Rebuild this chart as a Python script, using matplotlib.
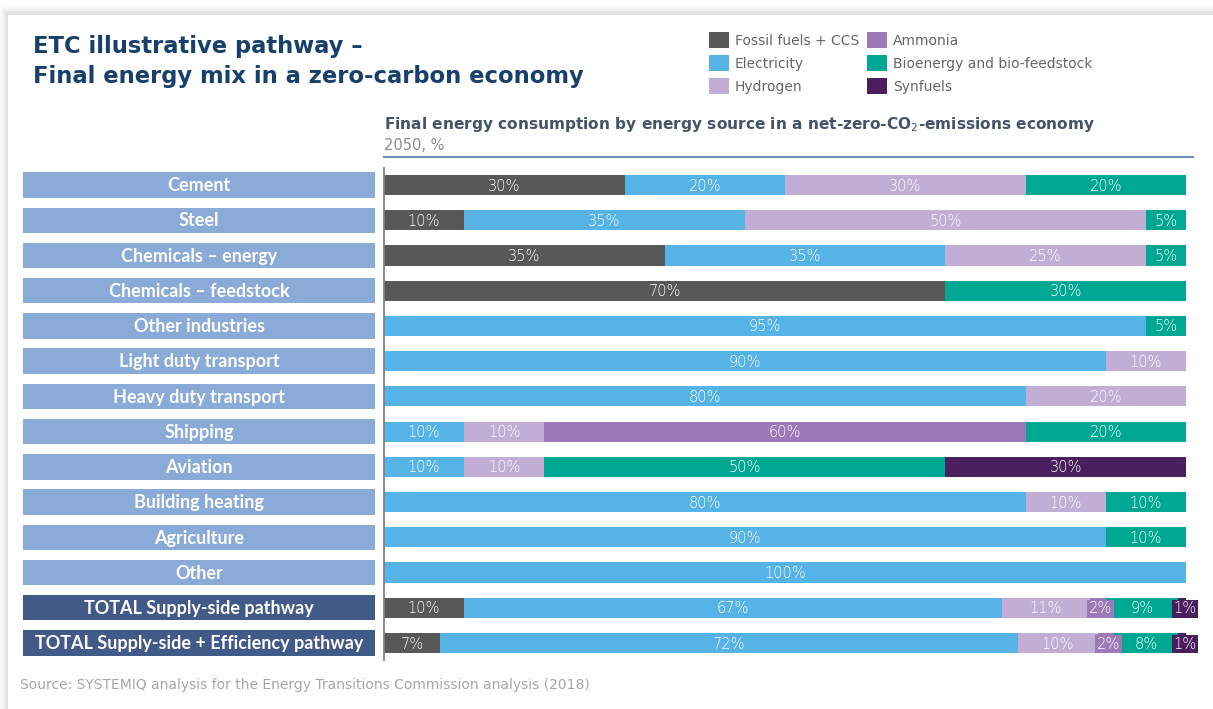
import matplotlib
matplotlib.use("Agg")
import matplotlib.pyplot as plt
from matplotlib.patches import Rectangle
import numpy as np

categories = ["Cement", "Steel", "Chemicals – energy", "Chemicals – feedstock",
              "Other industries", "Light duty transport", "Heavy duty transport",
              "Shipping", "Aviation", "Building heating", "Agriculture", "Other",
              "TOTAL Supply-side pathway", "TOTAL Supply-side + Efficiency pathway"]
sources = ["Fossil fuels + CCS", "Electricity", "Hydrogen", "Ammonia",
           "Bioenergy and bio-feedstock", "Synfuels"]
fossil   = [30, 10, 35, 70, 0, 0, 0, 0, 0, 0, 0, 0, 10, 7]
electric = [20, 35, 35, 0, 95, 90, 80, 10, 10, 80, 90, 100, 67, 72]
hydrogen = [30, 50, 25, 0, 0, 10, 20, 10, 10, 10, 0, 0, 11, 10]
ammonia  = [0, 0, 0, 0, 0, 0, 0, 60, 0, 0, 0, 0, 2, 2]
bio      = [20, 5, 5, 30, 5, 0, 0, 20, 50, 10, 10, 0, 9, 8]
synfuels = [0, 0, 0, 0, 0, 0, 0, 0, 30, 0, 0, 0, 1, 1]
series = [fossil, electric, hydrogen, ammonia, bio, synfuels]
colors = ["#585858", "#55B3E6", "#C2AED5", "#9D7AB7", "#00A894", "#4A1F5E"]

W, H = 1213, 709
fig = plt.figure(figsize=(W / 100, H / 100), dpi=100)
fig.patch.set_facecolor("white")

def fx(x): return x / W
def fy(y): return 1 - y / H

# card shadow
for i, a in enumerate([0.03, 0.04, 0.05, 0.06, 0.07]):
    off = 5 - i
    fig.patches.append(Rectangle((fx(8 - off * 1.6), 0), 1, fy(15 - off * 2),
                                 transform=fig.transFigure, facecolor="#808080",
                                 alpha=a, edgecolor="none", zorder=-3))
fig.patches.append(Rectangle((fx(8), 0), 1, fy(15), transform=fig.transFigure,
                             facecolor="white", edgecolor="none", zorder=-2))

# main bar axes
y_top_px, y_bot_px = 168, 660
row0, step = 185, 35.23
ax = fig.add_axes([fx(384), fy(y_bot_px), fx(1186) - fx(384), fy(y_top_px) - fy(y_bot_px)])
ax.patch.set_visible(False)
ymin = (y_top_px - row0) / step
ymax = (y_bot_px - row0) / step
ax.set_xlim(0, 100)
ax.set_ylim(ymax, ymin)
ax.axis("off")

ypos = np.arange(len(categories))
left = np.zeros(len(categories))
for vals, col in zip(series, colors):
    vals = np.array(vals, dtype=float)
    ax.barh(ypos, vals, left=left, height=0.57, color=col, edgecolor="none", clip_on=False)
    left += vals

# labels (drawn after bars so small-segment label boxes sit on top)
left = np.zeros(len(categories))
for vals, col in zip(series, colors):
    vals = np.array(vals, dtype=float)
    for yi, (v, l) in enumerate(zip(vals, left)):
        if v > 0:
            kw = {}
            xc = l + v / 2
            if v < 5:
                kw["bbox"] = dict(boxstyle="square,pad=0.1", facecolor=col,
                                  edgecolor="none")
                xc = l + v / 2 + 0.35
            ax.text(xc, yi + 0.03, f"{int(v)}%", ha="center", va="center",
                    color="white", fontsize=10.5, family="DejaVu Sans",
                    fontweight="light", clip_on=False, **kw)
    left += vals

ax.plot([0, 0], [ymin, ymax], color="#808080", lw=1.3, clip_on=False)

# label boxes axes
lax = fig.add_axes([fx(23), fy(y_bot_px), fx(375) - fx(23), fy(y_top_px) - fy(y_bot_px)])
lax.patch.set_visible(False)
lax.set_xlim(0, 1)
lax.set_ylim(ymax, ymin)
lax.axis("off")
for i, cat in enumerate(categories):
    fc = "#425A88" if cat.startswith("TOTAL") else "#8AAAD7"
    lax.add_patch(Rectangle((0, i - 0.36), 1, 0.72, facecolor=fc, edgecolor="none"))
    lax.text(0.5, i + 0.02, cat, ha="center", va="center", color="white",
             fontsize=13, fontweight="bold", family="Lato")

# titles
title_col = "#17406D"
fig.text(fx(33), fy(46), "ETC illustrative pathway –", fontsize=16.3, fontweight="bold",
         color=title_col, va="center", ha="left", family="DejaVu Sans")
fig.text(fx(33), fy(77), "Final energy mix in a zero-carbon economy", fontsize=16.3,
         fontweight="bold", color=title_col, va="center", ha="left", family="DejaVu Sans")

fig.text(fx(384), fy(125), "Final energy consumption by energy source in a net-zero-CO$_2$-emissions economy",
         fontsize=11.1, fontweight="bold", color="#44546A", va="center", ha="left",
         family="DejaVu Sans")
fig.text(fx(384), fy(145), "2050, %", fontsize=10.5, color="#8C8C8C", va="center",
         ha="left", family="DejaVu Sans")
fig.add_artist(plt.Line2D([fx(384), fx(1193)], [fy(157), fy(157)], color="#6F8BB8",
                          lw=1.5, transform=fig.transFigure))

# legend
leg_x = [709, 867]
leg_y = [40, 63, 86]
for k, (name, col) in enumerate(zip(sources, colors)):
    c, r = divmod(k, 3)
    x0, yc = leg_x[c], leg_y[r]
    fig.patches.append(Rectangle((fx(x0), fy(yc + 8)), fx(20), 16 / H,
                                 transform=fig.transFigure, facecolor=col, edgecolor="none"))
    fig.text(fx(x0 + 26), fy(yc + 1), name, fontsize=10, color="#666666",
             va="center", ha="left", family="DejaVu Sans")

fig.text(fx(20), fy(685), "Source: SYSTEMIQ analysis for the Energy Transitions Commission analysis (2018)",
         fontsize=10, color="#A6A6A6", va="center", ha="left", family="DejaVu Sans")

fig.savefig("out.png", dpi=100, facecolor=fig.get_facecolor())
